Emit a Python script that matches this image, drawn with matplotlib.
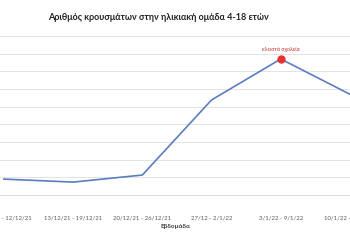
import numpy as np
import matplotlib.pyplot as plt

plt.rcParams['font.family'] = ['Lato', 'DejaVu Sans']

weeks = ['6/12/21 - 12/12/21', '13/12/21 - 19/12/21', '20/12/21 - 26/12/21',
         '27/12 - 2/1/22', '3/1/22 - 9/1/22', '10/1/22 - 16/1/22']
cases = [900, 730, 1130, 5380, 7700, 5700]
peak_note = 'κλειστά σχολεία'
peak_idx = 4

fig = plt.figure(figsize=(3.5, 2.5), dpi=100)
ax = fig.add_axes([0, 0.22, 1, 0.636])

x = np.arange(len(weeks))
ax.plot(x, cases, color='#5a7ebf', lw=1.2, zorder=3)
ax.plot(x[peak_idx], cases[peak_idx], 'o', color='#e8312f', ms=5, zorder=4)
ax.annotate(peak_note, (x[peak_idx], cases[peak_idx]), xytext=(0, 5),
            textcoords='offset points', ha='center', va='bottom',
            fontsize=3.8, color='#c0302c')

# chart is cropped on both sides, first point sits right at the left edge
ax.set_xlim(-0.056, 4.83)
ax.set_ylim(0, 9000)
ax.set_yticks(np.arange(0, 9001, 1000))
ax.grid(axis='y', color='#e4e4e4', lw=0.7)
ax.set_axisbelow(True)
for s in ['left', 'right', 'top']:
    ax.spines[s].set_visible(False)
ax.spines['bottom'].set_color('#dcdcdc')
ax.spines['bottom'].set_linewidth(0.7)
ax.tick_params(axis='y', left=False, labelleft=False)
ax.set_xticks(x)
ax.set_xticklabels(weeks, fontsize=4.3, color='#595959')
ax.tick_params(axis='x', length=0, pad=15)
ax.set_xlabel('Εβδομάδα', fontsize=4.6, fontweight='bold', color='#404040',
              labelpad=2)

fig.text(0.452, 0.928, 'Αριθμός κρουσμάτων στην ηλικιακή ομάδα 4-18 ετών',
         ha='center', va='center', fontsize=6.5, fontweight='bold',
         color='#222222')

fig.savefig('out.png', dpi=100)
